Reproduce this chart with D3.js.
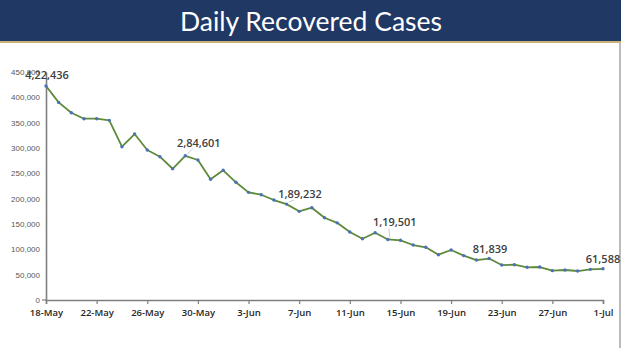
<!DOCTYPE html>
<html>
<head>
<meta charset="utf-8">
<script src="https://cdn.jsdelivr.net/npm/d3@7"></script>
<style>
  html, body { margin: 0; padding: 0; background: #fff; }
  svg { display: block; }
</style>
</head>
<body>
<svg id="chart" width="621" height="348"></svg>
<script>
// Daily recovered cases, 18 May to 1 Jul
const startDate = "2020-05-18";
const recovered = [
  422436, 390000, 369600, 357800, 357800, 354600, 302600, 327600, 296000, 282800,
  259000, 284601, 276300, 238200, 256000, 232300, 212500, 207800, 197300, 189232,
  175000, 182200, 162400, 152300, 134200, 121000, 132800, 119501, 117800, 108500,
  104000, 89400, 98700, 87500, 78900, 81839, 69000, 69700, 64500, 65100,
  57900, 59200, 57200, 60500, 61588
];
const yTicks = [0, 50000, 100000, 150000, 200000, 250000, 300000, 350000, 400000, 450000];
const xTickLabels = ["18-May", "22-May", "26-May", "30-May", "3-Jun", "7-Jun",
                     "11-Jun", "15-Jun", "19-Jun", "23-Jun", "27-Jun", "1-Jul"];
const labelledDays = [0, 11, 19, 27, 35, 44];
const title = "Daily Recovered Cases";

const parse = d3.timeParse("%Y-%m-%d");
const day0 = parse(startDate);
const dates = recovered.map((_, i) => d3.timeDay.offset(day0, i));
const series = recovered.map((v, i) => ({ date: dates[i], value: v }));

const svg = d3.select("#chart");
const W = 621, H = 348;

// header band
svg.append("rect").attr("x", 0).attr("y", 0).attr("width", W).attr("height", 41).attr("fill", "#1f3864");
svg.append("rect").attr("x", 0).attr("y", 41).attr("width", W).attr("height", 2).attr("fill", "#c8b27a");
const t = svg.append("text")
  .attr("x", 311).attr("y", 31)
  .attr("text-anchor", "middle")
  .attr("fill", "#ffffff")
  .style("font-family", "Lato, 'Open Sans', sans-serif")
  .style("font-size", "28px")
  .text(title);
const tw = t.node().getComputedTextLength();
t.style("font-size", (28 * 262 / tw).toFixed(2) + "px");

// right frame edge
svg.append("line").attr("x1", 620).attr("x2", 620).attr("y1", 43).attr("y2", H)
  .attr("stroke", "#a6a6a6").attr("stroke-width", 1.5);

const x = d3.scaleTime().domain([dates[0], dates[dates.length - 1]]).range([46, 603]);
const y = d3.scaleLinear().domain([0, 450000]).range([300, 72]);

const indian = v => {
  const s = String(Math.round(v));
  if (s.length <= 3) return s;
  const last3 = s.slice(-3);
  const rest = s.slice(0, -3).replace(/\B(?=(\d{2})+(?!\d))/g, ",");
  return rest + "," + last3;
};

// y axis
const yAxis = d3.axisLeft(y).tickValues(yTicks).tickSize(0).tickPadding(6)
  .tickFormat(d3.format(","));
const gy = svg.append("g").attr("transform", "translate(46,0)").call(yAxis);
gy.select(".domain").attr("stroke", "#7f7f7f").attr("stroke-width", 1.6);
gy.selectAll("text").attr("fill", "#595959")
  .style("font-family", "'Liberation Sans', Arial, sans-serif").style("font-size", "8px");

// small tick at zero
svg.append("line").attr("x1", 42).attr("x2", 46).attr("y1", y(0)).attr("y2", y(0))
  .attr("stroke", "#7f7f7f").attr("stroke-width", 1.2);

// x axis
const tickDates = dates.filter((_, i) => i % 4 === 0);
const xAxis = d3.axisBottom(x).tickValues(tickDates).tickSize(4).tickPadding(5)
  .tickFormat((d, i) => xTickLabels[i]);
const gx = svg.append("g").attr("transform", "translate(0,300)").call(xAxis);
gx.select(".domain").attr("stroke", "#7f7f7f").attr("stroke-width", 1.6);
gx.selectAll("line").attr("stroke", "#7f7f7f").attr("stroke-width", 1.2);
gx.selectAll("text").attr("fill", "#262626")
  .style("font-family", "'Open Sans', sans-serif").style("font-size", "9.5px")
  .style("font-weight", "600");

// line and markers
const line = d3.line().x(d => x(d.date)).y(d => y(d.value));
svg.append("path").datum(series).attr("d", line)
  .attr("fill", "none").attr("stroke", "#5e8a3a").attr("stroke-width", 1.8)
  .attr("stroke-linejoin", "round");
svg.append("g").selectAll("circle").data(series).join("circle")
  .attr("cx", d => x(d.date)).attr("cy", d => y(d.value)).attr("r", 1.7)
  .attr("fill", "#4a72b8");

// value labels with leader lines
const offsets = { 0: [1, -7], 11: [13.5, -9], 19: [13.5, -6], 27: [7, -13], 35: [1, -6], 44: [0, -6] };
const leaders = { 11: true, 19: true, 27: true };
const lg = svg.append("g");
labelledDays.forEach(i => {
  const d = series[i];
  const px = x(d.date), py = y(d.value);
  const [dx, dy] = offsets[i];
  if (leaders[i]) {
    lg.append("line")
      .attr("x1", px + 2).attr("y1", py - 2)
      .attr("x2", px + dx - 6).attr("y2", py + dy + 2)
      .attr("stroke", "#bfbfbf").attr("stroke-width", 0.8);
  }
  lg.append("text")
    .attr("x", px + dx).attr("y", py + dy)
    .attr("text-anchor", "middle")
    .attr("fill", "#404040")
    .style("font-family", "'Open Sans', sans-serif")
    .style("font-size", "11px").style("font-weight", "600")
    .text(indian(d.value));
});
</script>
</body>
</html>
